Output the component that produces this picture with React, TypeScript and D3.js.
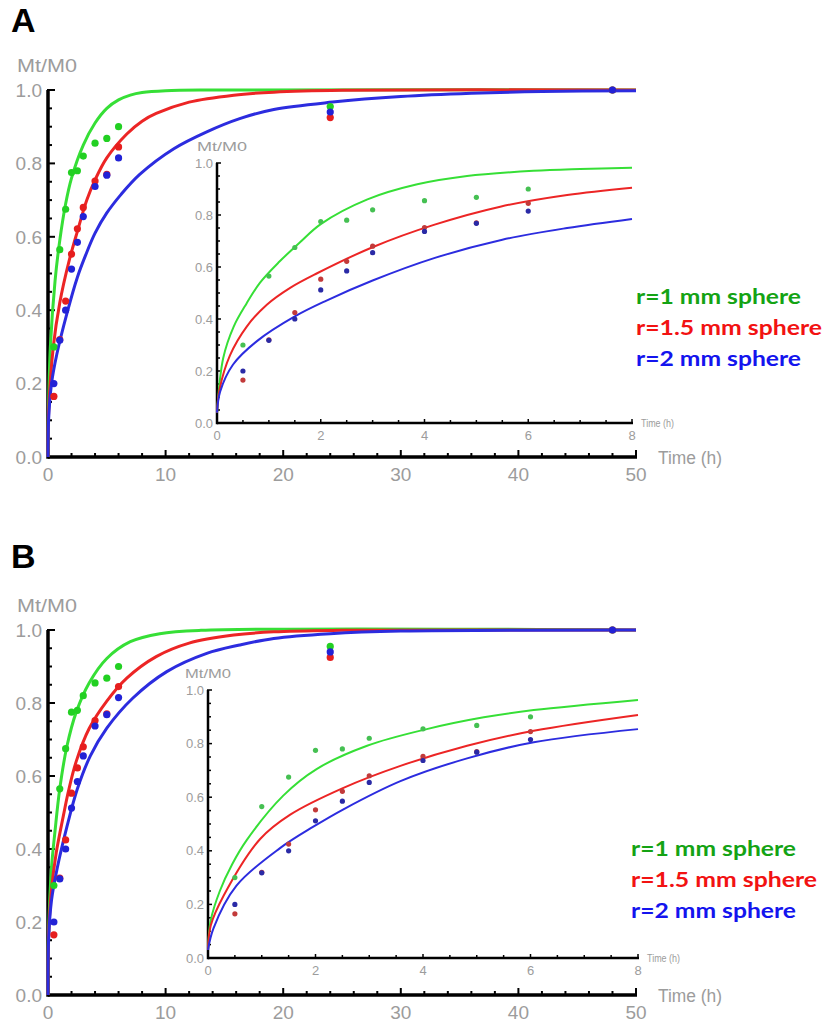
import { useEffect, useRef } from "react";
import * as d3 from "d3";

// measured release (same points in both panels)
const sampleTime = [0.5, 1, 1.5, 2, 2.5, 3, 4, 5, 6, 24, 48];
const releaseR1 = [0.3, 0.565, 0.675, 0.775, 0.78, 0.82, 0.855, 0.868, 0.9, 0.955, 1.0];
const releaseR15 = [0.165, 0.32, 0.425, 0.553, 0.622, 0.68, 0.752, 0.77, 0.845, 0.925, 1.0];
const releaseR2 = [0.2, 0.318, 0.4, 0.512, 0.585, 0.655, 0.737, 0.768, 0.815, 0.94, 1.0];

// fitted curves, [time h, Mt/M0]
const fitA_R1 = [[0, 0], [0.05, 0.14], [0.2, 0.3], [0.6, 0.48], [1, 0.59], [1.5, 0.69], [2, 0.76], [3, 0.85], [4, 0.91], [5, 0.95], [6, 0.973], [7, 0.986], [8, 0.993], [10, 0.998], [14, 1], [50, 1]];
const fitA_R15 = [[0, 0], [0.05, 0.12], [0.45, 0.3], [1, 0.42], [1.8, 0.535], [2.5, 0.615], [3.3, 0.7], [4, 0.755], [5, 0.815], [6.7, 0.88], [8, 0.915], [9.2, 0.936], [12, 0.967], [15.8, 0.986], [19.2, 0.994], [25, 0.999], [50, 1]];
const fitA_R2 = [[0, 0], [0.05, 0.1], [0.3, 0.2], [0.75, 0.28], [1.6, 0.39], [2.5, 0.49], [3.2, 0.55], [4, 0.61], [5, 0.665], [6.2, 0.715], [7.8, 0.77], [10.7, 0.84], [13.5, 0.886], [16.3, 0.922], [19.2, 0.947], [24.2, 0.967], [30, 0.982], [36, 0.991], [42, 0.996], [50, 0.998]];

const insetA_R1 = [[0, 0.04], [0.12, 0.25], [0.32, 0.37], [0.57, 0.46], [0.83, 0.54], [1.2, 0.62], [1.6, 0.695], [2, 0.765], [2.9, 0.86], [3.86, 0.918], [4.82, 0.95], [6.1, 0.97], [7, 0.977], [8, 0.982]];
const insetA_R15 = [[0, 0.04], [0.05, 0.13], [0.25, 0.26], [0.57, 0.37], [0.96, 0.455], [1.41, 0.52], [1.92, 0.575], [3.02, 0.678], [4.18, 0.762], [5.46, 0.832], [6.75, 0.877], [8, 0.905]];
const insetA_R2 = [[0, 0.04], [0.06, 0.12], [0.31, 0.225], [0.77, 0.315], [1.5, 0.41], [2.1, 0.47], [3, 0.548], [4.2, 0.635], [5.5, 0.705], [6.75, 0.75], [8, 0.785]];

const fitB_R1 = [[0, 0], [0.05, 0.17], [0.3, 0.35], [0.6, 0.45], [1, 0.565], [1.6, 0.68], [2.4, 0.775], [3.5, 0.855], [5, 0.922], [7, 0.968], [9.5, 0.99], [13, 0.999], [50, 1]];
const fitB_R15 = [[0, 0], [0.05, 0.16], [0.3, 0.29], [0.7, 0.39], [1.3, 0.49], [1.75, 0.56], [2.4, 0.64], [3.5, 0.73], [5, 0.805], [6.7, 0.868], [9.2, 0.927], [12, 0.964], [15.8, 0.986], [19.2, 0.995], [25, 0.999], [50, 1]];
const fitB_R2 = [[0, 0], [0.05, 0.15], [0.3, 0.26], [0.8, 0.35], [1.6, 0.46], [2.5, 0.565], [3.6, 0.655], [5, 0.731], [7.2, 0.813], [10.1, 0.886], [13.5, 0.936], [16.3, 0.959], [19.2, 0.977], [24, 0.99], [30, 0.997], [50, 1]];

const insetB_R1 = [[0, 0.03], [0.05, 0.14], [0.22, 0.25], [0.45, 0.35], [0.72, 0.44], [1.4, 0.606], [2.02, 0.705], [2.96, 0.792], [4.07, 0.854], [5.13, 0.898], [6.06, 0.925], [8, 0.963]];
const insetB_R15 = [[0, 0.03], [0.05, 0.12], [0.29, 0.232], [0.97, 0.444], [1.53, 0.535], [2.52, 0.635], [3.58, 0.717], [4.82, 0.792], [6.06, 0.848], [8, 0.907]];
const insetB_R2 = [[0, 0.03], [0.1, 0.11], [0.53, 0.27], [1.34, 0.41], [1.96, 0.49], [2.52, 0.555], [3.58, 0.66], [4.82, 0.745], [6.06, 0.805], [8, 0.854]];

const legendLabels = ["r=1 mm sphere", "r=1.5 mm sphere", "r=2 mm sphere"];
const legendWidths = [165, 186, 165];
const mainXTicks = [0, 10, 20, 30, 40, 50];
const insetXTicks = [0, 2, 4, 6, 8];
const yTicks = [0, 0.2, 0.4, 0.6, 0.8, 1.0];

const lineColors = ["#36df36", "#ec2525", "#2c2cdf"];
const dotColors = ["#22d022", "#e61e1e", "#2222d6"];
const insetDotColors = ["#45c052", "#c23a3a", "#2a2aa6"];
const legendColors = ["#14a314", "#f21212", "#1414ee"];
const grey = "#9c9c9c";

const panels = [
  {
    letter: "A", letterY: 32, x0: 48, x1: 636, y0: 457, y1: 90,
    fits: [fitA_R1, fitA_R15, fitA_R2],
    insetFits: [insetA_R1, insetA_R15, insetA_R2],
    inset: { x0: 217, x1: 632, y0: 423, y1: 163, labelX: 197, labelW: 50 },
    legendX: 636, legendY: 304,
  },
  {
    letter: "B", letterY: 568, x0: 48, x1: 636, y0: 995, y1: 630,
    fits: [fitB_R1, fitB_R15, fitB_R2],
    insetFits: [insetB_R1, insetB_R15, insetB_R2],
    inset: { x0: 208, x1: 638, y0: 958, y1: 690, labelX: 185, labelW: 46 },
    legendX: 631, legendY: 856,
  },
];

function axes(g, x, y, o) {
  const [xa, xb] = x.range();
  const [ya, yb] = y.range();
  g.append("line").attr("x1", xa).attr("x2", xb + 1).attr("y1", ya).attr("y2", ya)
    .attr("stroke", "#000").attr("stroke-width", o.axisW);
  g.append("line").attr("x1", xa).attr("x2", xa).attr("y1", ya + o.axisW / 2).attr("y2", yb)
    .attr("stroke", "#000").attr("stroke-width", o.axisW);

  g.selectAll(null).data(d3.range(0, o.xMax + 1e-6, o.xMinor)).join("line")
    .attr("x1", (d) => x(d)).attr("x2", (d) => x(d))
    .attr("y1", ya + 1)
    .attr("y2", (d) => ya - (Math.abs(d % o.xMajor) < 1e-6 ? o.major : o.minor))
    .attr("stroke", "#000").attr("stroke-width", o.tickW);
  g.selectAll(null).data(d3.range(0, 1 + 1e-6, 0.05)).join("line")
    .attr("y1", (d) => y(d)).attr("y2", (d) => y(d))
    .attr("x1", xa - 1)
    .attr("x2", (d) => xa + (Math.abs(Math.round(d * 100) % 20) === 0 ? o.major : o.minor))
    .attr("stroke", "#000").attr("stroke-width", o.tickW);

  g.selectAll(null).data(yTicks).join("text")
    .attr("x", xa - o.yLabelGap).attr("y", (d) => y(d)).attr("dy", "0.36em")
    .attr("text-anchor", "end").attr("font-size", o.font).attr("fill", grey)
    .text((d) => d3.format(".1f")(d));
  g.selectAll(null).data(o.xTicks).join("text")
    .attr("x", (d) => x(d)).attr("y", ya + o.xLabelDy)
    .attr("text-anchor", "middle").attr("font-size", o.font).attr("fill", grey)
    .text((d) => d);
}

function drawPanel(svg, p) {
  const g = svg.append("g").attr("font-family", "'Liberation Sans', Arial, sans-serif");
  const x = d3.scaleLinear().domain([0, 50]).range([p.x0, p.x1]);
  const y = d3.scaleLinear().domain([0, 1]).range([p.y0, p.y1]);

  g.append("text").attr("x", 11).attr("y", p.letterY).attr("font-size", 34)
    .attr("font-weight", "bold").text(p.letter);
  g.append("text").attr("x", 17).attr("y", p.y1 - 18).attr("font-size", 19)
    .attr("fill", grey).attr("textLength", 60).attr("lengthAdjust", "spacingAndGlyphs").text("Mt/M0");
  g.append("text").attr("x", 658).attr("y", p.y0 + 7).attr("font-size", 18)
    .attr("fill", grey).attr("textLength", 64).attr("lengthAdjust", "spacingAndGlyphs").text("Time (h)");

  axes(g, x, y, {
    axisW: 3.5, tickW: 2, major: 7, minor: 4, xMax: 50, xMinor: 2, xMajor: 10,
    xTicks: mainXTicks, font: 19, yLabelGap: 6, xLabelDy: 24,
  });

  const line = d3.line().x((d) => x(d[0])).y((d) => y(d[1])).curve(d3.curveCatmullRom.alpha(0.5));
  p.fits.forEach((f, i) => {
    g.append("path").datum(f).attr("d", line).attr("fill", "none")
      .attr("stroke", lineColors[i]).attr("stroke-width", 3);
  });
  [releaseR1, releaseR15, releaseR2].forEach((vals, i) => {
    g.selectAll(null).data(sampleTime.map((t, k) => [t, vals[k]])).join("circle")
      .attr("cx", (d) => x(d[0])).attr("cy", (d) => y(d[1])).attr("r", 3.6)
      .attr("fill", dotColors[i]);
  });

  // inset
  const ins = p.inset;
  const xi = d3.scaleLinear().domain([0, 8]).range([ins.x0, ins.x1]);
  const yi = d3.scaleLinear().domain([0, 1]).range([ins.y0, ins.y1]);
  const gi = g.append("g");
  gi.append("text").attr("x", ins.labelX).attr("y", ins.y1 - 12).attr("font-size", 12)
    .attr("fill", grey).attr("textLength", ins.labelW).attr("lengthAdjust", "spacingAndGlyphs").text("Mt/M0");
  gi.append("text").attr("x", ins.x1 + 9).attr("y", ins.y0 + 4).attr("font-size", 10)
    .attr("fill", grey).attr("textLength", 33).attr("lengthAdjust", "spacingAndGlyphs").text("Time (h)");
  axes(gi, xi, yi, {
    axisW: 2.5, tickW: 1.5, major: 4, minor: 3, xMax: 8, xMinor: 0.5, xMajor: 2,
    xTicks: insetXTicks, font: 13, yLabelGap: 4, xLabelDy: 17,
  });
  const lineI = d3.line().x((d) => xi(d[0])).y((d) => yi(d[1])).curve(d3.curveCatmullRom.alpha(0.5));
  p.insetFits.forEach((f, i) => {
    gi.append("path").datum(f).attr("d", lineI).attr("fill", "none")
      .attr("stroke", lineColors[i]).attr("stroke-width", 2);
  });
  [releaseR1, releaseR15, releaseR2].forEach((vals, i) => {
    gi.selectAll(null)
      .data(sampleTime.map((t, k) => [t, vals[k]]).filter((d) => d[0] <= 8))
      .join("circle")
      .attr("cx", (d) => xi(d[0])).attr("cy", (d) => yi(d[1])).attr("r", 2.6)
      .attr("fill", insetDotColors[i]);
  });

  g.selectAll(null).data(legendLabels).join("text")
    .attr("x", p.legendX).attr("y", (d, i) => p.legendY + i * 31)
    .attr("font-family", "Lato, 'Open Sans', sans-serif").attr("font-weight", "bold")
    .attr("font-size", 21).attr("fill", (d, i) => legendColors[i])
    .attr("textLength", (d, i) => legendWidths[i]).attr("lengthAdjust", "spacingAndGlyphs")
    .text((d) => d);
}

export default function App() {
  const ref = useRef(null);
  useEffect(() => {
    const svg = d3.select(ref.current);
    svg.selectAll("*").remove();
    panels.forEach((p) => drawPanel(svg, p));
  }, []);

  return (
    <svg
      ref={ref}
      width={826}
      height={1024}
      style={{ position: "absolute", left: 0, top: 0, background: "#fff" }}
    />
  );
}
